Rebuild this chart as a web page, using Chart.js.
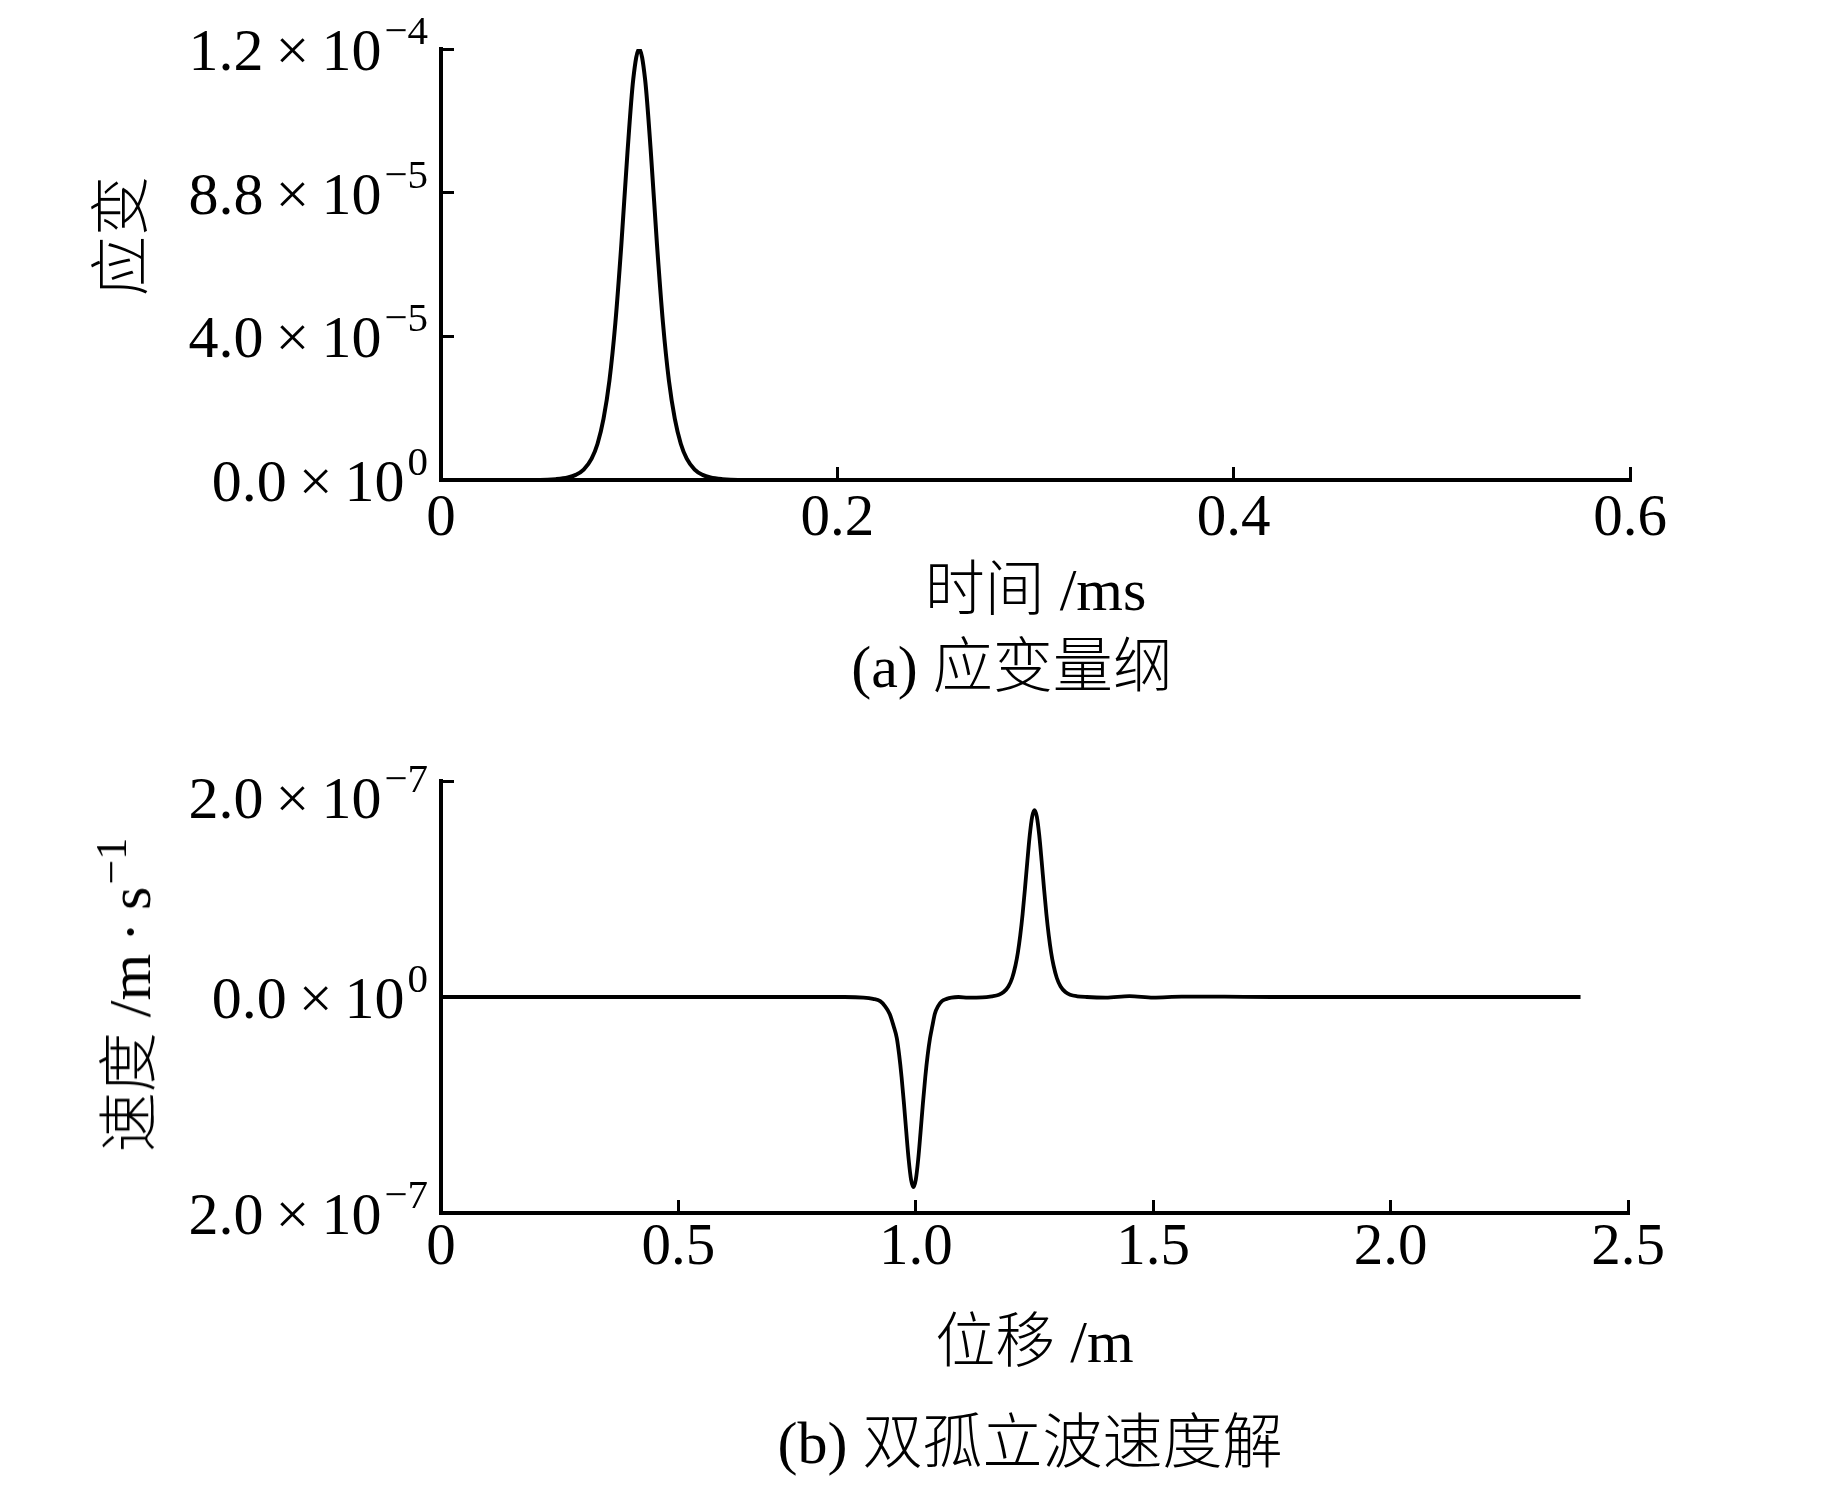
<!DOCTYPE html>
<html>
<head>
<meta charset="utf-8">
<script src="https://cdn.jsdelivr.net/npm/chart.js@4.4.1/dist/chart.umd.min.js"></script>
<style>
    body { margin: 0; background: #fff; }
    #page { position: relative; width: 1843px; height: 1488px; overflow: hidden; }
    canvas { position: absolute; left: 0; }
    .txt {
        position: absolute;
        white-space: nowrap;
        font-family: "Liberation Serif", "Noto Sans CJK SC", serif;
        font-weight: 300;
        font-size: 60px;
        line-height: 1;
        color: #000;
        transform: translate(-50%, -50%);
    }
    .rot { transform: translate(-50%, -50%) rotate(-90deg); }
    .sup { font-size: 44px; position: relative; top: -24px; margin-left: 2px; }
</style>
</head>
<body>
<div id="page">
    <canvas id="chartStrain" width="1843" height="720" style="top:0"></canvas>
    <canvas id="chartVelocity" width="1843" height="768" style="top:720px"></canvas>
    <div class="txt rot" style="left:122px; top:236px">应变</div>
    <div class="txt" style="left:1012px; top:667px">(a) 应变量纲</div>
    <div class="txt rot" style="left:130px; top:995px">速度 /m&#8201;·&#8201;s<span class="sup">−1</span></div>
    <div class="txt" style="left:1030px; top:1443px">(b) 双孤立波速度解</div>
</div>
<script>
// (a) strain pulse, time in ms
var strainTime = [0, 0.050, 0.058, 0.064, 0.068, 0.072, 0.076, 0.079, 0.082, 0.085, 0.088, 0.091, 0.094, 0.097,
    0.1, 0.103, 0.106, 0.109, 0.112, 0.115, 0.118, 0.121, 0.124, 0.128, 0.132, 0.136, 0.142, 0.150, 0.6];
var strainValue = [0, 0, 0.0023e-4, 0.0069e-4, 0.0142e-4, 0.029e-4, 0.0595e-4, 0.101e-4, 0.170e-4, 0.277e-4, 0.438e-4, 0.655e-4, 0.904e-4, 1.115e-4,
    1.2e-4, 1.115e-4, 0.904e-4, 0.655e-4, 0.438e-4, 0.277e-4, 0.170e-4, 0.101e-4, 0.0595e-4, 0.029e-4, 0.0142e-4, 0.0069e-4, 0.0023e-4, 0, 0];

var timeTicks = [0, 0.2, 0.4, 0.6];
var timeTickLabels = ['0', '0.2', '0.4', '0.6'];
var strainTicks = [0, 4e-5, 8e-5, 1.2e-4];
var strainTickMant = ['0.0', '4.0', '8.8', '1.2'];
var strainTickExp = ['0', '\u22125', '\u22125', '\u22124'];

// (b) double solitary wave velocity, position in m
var position = [0, 0.85, 0.89, 0.91, 0.925, 0.935, 0.945, 0.953, 0.96, 0.965, 0.97, 0.975, 0.98, 0.985, 0.99, 0.995,
    1.0, 1.005, 1.01, 1.015, 1.02, 1.025, 1.03, 1.035, 1.04, 1.047, 1.055, 1.065, 1.075, 1.09, 1.11,
    1.14, 1.16, 1.175, 1.185, 1.195, 1.203, 1.21, 1.215, 1.22, 1.225, 1.23, 1.235, 1.24, 1.245,
    1.25, 1.255, 1.26, 1.265, 1.27, 1.275, 1.28, 1.285, 1.29, 1.297, 1.305, 1.315, 1.325, 1.34, 1.36,
    1.40, 1.45, 1.50, 1.56, 1.65, 1.75, 2.4];
var velocity = [0, 0, -0.0053e-7, -0.0174e-7, -0.0384e-7, -0.0843e-7, -0.157e-7, -0.265e-7, -0.380e-7, -0.537e-7, -0.739e-7, -0.984e-7, -1.252e-7, -1.506e-7, -1.691e-7,
    -1.76e-7, -1.691e-7, -1.506e-7, -1.252e-7, -0.984e-7, -0.739e-7, -0.537e-7, -0.380e-7, -0.265e-7, -0.157e-7, -0.0843e-7, -0.0384e-7, -0.0174e-7, -0.0053e-7, 0, -0.006e-7,
    -0.004e-7, 0.0068e-7, 0.0215e-7, 0.046e-7, 0.0978e-7, 0.176e-7, 0.294e-7, 0.412e-7, 0.571e-7, 0.770e-7, 1.007e-7, 1.261e-7, 1.497e-7, 1.668e-7,
    1.73e-7, 1.668e-7, 1.497e-7, 1.261e-7, 1.007e-7, 0.770e-7, 0.571e-7, 0.412e-7, 0.294e-7, 0.176e-7, 0.0978e-7, 0.046e-7, 0.0215e-7, 0.0068e-7, 0,
    -0.005e-7, 0.008e-7, -0.005e-7, 0.004e-7, 0.003e-7, 0, 0];

var posTicks = [0, 0.5, 1.0, 1.5, 2.0, 2.5];
var posTickLabels = ['0', '0.5', '1.0', '1.5', '2.0', '2.5'];
var velTicks = [-2e-7, 0, 2e-7];
var velTickMant = ['2.0', '0.0', '2.0'];
var velTickExp = ['\u22127', '0', '\u22127'];

var serif = '"Liberation Serif", "Noto Sans CJK SC", serif';

// y tick labels of the form 1.2×10^-4, drawn at the scale's own tick pixels
var powerTickLabels = {
    id: 'powerTickLabels',
    afterDraw: function(chart, args, opts) {
        var scale = chart.scales.y;
        var ctx = chart.ctx;
        ctx.save();
        ctx.fillStyle = '#000';
        ctx.textAlign = 'left';
        ctx.textBaseline = 'alphabetic';
        scale.ticks.forEach(function(tick, i) {
            var py = scale.getPixelForValue(tick.value);
            if (i === scale.ticks.length - 1) py += opts.topDrop;
            var base = opts.mant[i] + '\u2009\u00d7\u200910';
            var exp = opts.exp[i];
            ctx.font = '41px ' + serif;
            var ew = ctx.measureText(exp).width;
            ctx.font = '60px ' + serif;
            var bw = ctx.measureText(base).width;
            ctx.fillText(base, opts.right - ew - bw - 3, py + 21);
            ctx.font = '41px ' + serif;
            ctx.fillText(exp, opts.right - ew, py - 5);
        });
        ctx.restore();
    }
};

function makeChart(canvasId, xs, ys, cfg) {
    var points = xs.map(function(x, i) { return {x: x, y: ys[i]}; });
    var canvas = document.querySelector(canvasId).getContext('2d');
    return new Chart(canvas, {
        type: 'line',
        data: {
            datasets: [{
                data: points,
                borderColor: '#000',
                borderWidth: cfg.lineWidth,
                pointRadius: 0,
                cubicInterpolationMode: 'monotone',
                fill: false
            }]
        },
        options: {
            responsive: false,
            animation: false,
            devicePixelRatio: 1,
            layout: { padding: { left: 0, top: cfg.top, right: cfg.right, bottom: 0 } },
            plugins: {
                legend: { display: false },
                tooltip: { enabled: false },
                powerTickLabels: { mant: cfg.mant, exp: cfg.exp, right: 428, topDrop: cfg.topDrop }
            },
            scales: {
                x: {
                    type: 'linear',
                    min: cfg.xTicks[0],
                    max: cfg.xTicks[cfg.xTicks.length - 1],
                    afterBuildTicks: function(s) { s.ticks = cfg.xTicks.map(function(v) { return {value: v}; }); },
                    afterFit: function(s) { s.height = cfg.height - cfg.axisY; },
                    ticks: {
                        color: '#000',
                        padding: cfg.labelPad,
                        maxRotation: 0,
                        font: { family: serif, size: 59, lineHeight: 1 },
                        callback: function(v, i) { return cfg.xLabels[i]; }
                    },
                    grid: { drawOnChartArea: false, drawTicks: true, tickLength: -13, tickWidth: 3, tickColor: '#000' },
                    border: { display: true, color: '#000', width: 4 },
                    title: {
                        display: true,
                        text: cfg.xTitle,
                        color: '#000',
                        font: { family: serif, size: 60, weight: 300, lineHeight: 1 },
                        padding: { top: 0, bottom: cfg.titlePad }
                    }
                },
                y: {
                    type: 'linear',
                    min: cfg.yTicks[0],
                    max: cfg.yTicks[cfg.yTicks.length - 1],
                    afterBuildTicks: function(s) { s.ticks = cfg.yTicks.map(function(v) { return {value: v}; }); },
                    afterFit: function(s) { s.width = 441; },
                    ticks: { display: false },
                    grid: { drawOnChartArea: false, drawTicks: true, tickLength: -13, tickWidth: 3, tickColor: '#000' },
                    border: { display: true, color: '#000', width: 4 }
                }
            }
        },
        plugins: [powerTickLabels]
    });
}

var strainChart = makeChart('#chartStrain', strainTime, strainValue, {
    lineWidth: 4, top: 49, right: 213, height: 720, axisY: 480, labelPad: 23, titlePad: 96,
    xTicks: timeTicks, xLabels: timeTickLabels, xTitle: '时间 /ms',
    yTicks: strainTicks, mant: strainTickMant, exp: strainTickExp, topDrop: 0
});

var velocityChart = makeChart('#chartVelocity', position, velocity, {
    lineWidth: 3.8, top: 61, right: 215, height: 768, axisY: 493, labelPad: 19, titlePad: 112,
    xTicks: posTicks, xLabels: posTickLabels, xTitle: '位移 /m',
    yTicks: velTicks, mant: velTickMant, exp: velTickExp, topDrop: 16
});
</script>
</body>
</html>
